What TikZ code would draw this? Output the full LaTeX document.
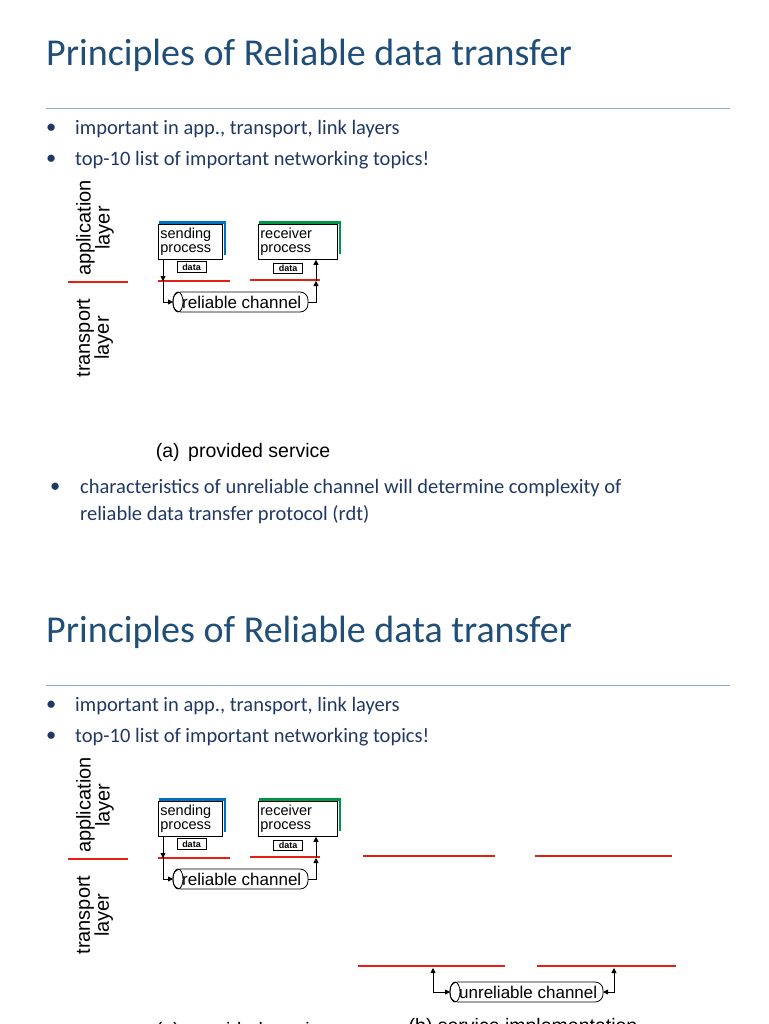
\documentclass[tikz,border=0pt]{standalone}
\usepackage{fontspec}
\setmainfont{Carlito}
\newfontfamily\arial{Liberation Sans}
\usetikzlibrary{arrows.meta}
\definecolor{ttl}{RGB}{31,78,121}
\definecolor{bod}{RGB}{32,56,100}
\definecolor{rl}{RGB}{230,30,20}
\definecolor{bl}{RGB}{0,112,192}
\definecolor{gr}{RGB}{0,150,70}
\tikzset{
 title/.style={anchor=west,font=\fontsize{38}{44}\selectfont,text=ttl,inner sep=0},
 bul/.style={anchor=west,font=\fontsize{20.5}{27}\selectfont,text=bod,inner sep=0,align=left},
 lay/.style={font=\arial\fontsize{20}{19}\selectfont,rotate=90,align=center,inner sep=0},
 proc/.style={draw,thick,font=\arial\fontsize{14.5}{14}\selectfont,align=left,inner sep=1pt,minimum height=35pt,anchor=north west},
 dbox/.style={draw,thick,font=\arial\bfseries\fontsize{9}{9}\selectfont,inner sep=2pt,minimum width=29pt},
 redl/.style={draw=rl,line width=1.8pt},
 conn/.style={thick,-{Triangle[length=5pt,width=5pt]}},
 chan/.style={font=\arial\fontsize{17}{17}\selectfont,inner sep=0},
 capt/.style={font=\arial\fontsize{19.5}{20}\selectfont,inner sep=0}
}
\newcommand{\cyl}[5]{% name x1 x2 ymid text
 \draw[thick,rounded corners=8pt] (#2,#4-10) rectangle (#3,#4+10);
 \draw[thick] (#2+5,#4) ellipse (5 and 10);
 \node[chan,anchor=west] (#1) at (#2+9,#4) {#5};
 \coordinate (#1L) at (#2,#4); \coordinate (#1R) at (#3,#4);}
\newcommand{\slide}{%
 \node[title] (t) at (46,55) {Principles of Reliable data transfer};
 \draw[draw={rgb,255:red,140;green,170;blue,215}] (46,108) -- (730,108);
 \node[bul] (d1b) at (46,129) {•};
 \node[bul] (b1) at (75,129) {important in app., transport, link layers};
 \node[bul] (d2b) at (46,160) {•};
 \node[bul] (b2) at (75,160) {top-10 list of important networking topics!};
 \node[lay] (al) at (95,228) {application\\layer};
 \node[lay] (tl) at (95,338) {transport\\layer};
 \draw[redl] (68,282) -- (128,282);
 \draw[bl,line width=2.5pt] (159,222.5) -- (225,222.5) -- (225,255);
 \node[proc,minimum width=64pt,text width=60pt] (sp) at (158,224) {sending\\process};
 \draw[gr,line width=2.5pt] (259,222.5) -- (340,222.5) -- (340,254);
 \node[proc,minimum width=79pt,text width=75pt] (rp) at (258,224) {receiver\\process};
 \node[dbox] (d1) at (191.5,267) {data};
 \node[dbox] (d2) at (288,268.5) {data};
 \draw[redl] (158,281) -- (230,281);
 \draw[redl] (250,280) -- (320,280);
 \cyl{rc}{173}{308}{302}{reliable channel}
 \coordinate (sl) at (163,281);
 \draw[thick] (sp.south -| sl) -- (sl);
 \draw[-{Triangle[length=5pt,width=5pt]},thick] (163,270) -- (sl);
 \draw[conn] (sl) |- (rcL);
 \coordinate (rr) at (316,281);
 \draw[conn] (rcR) -| (rr);
 \draw[conn] (rr) -- (rp.south -| rr);
}
\begin{document}
\begin{tikzpicture}[x=1pt,y=-1pt]
\useasboundingbox (0,0) rectangle (768,1024);
\clip (0,0) rectangle (768,1024);
\slide
\node[bul] (d3b) at (50,488) {•};
\node[bul] (b3) at (80,501.5) {characteristics of unreliable channel will determine complexity of\\reliable data transfer protocol (rdt)};
\node[capt] (ca) at (243,452) {(a)\, provided service};
\begin{scope}[shift={(0,577)}]
\slide
\end{scope}
\node[capt] (ca2) at (243,1031) {(a)\, provided service};
\node[capt] (cb) at (523,1027) {(b) service implementation};
\draw[redl] (363,856) -- (495,856);
\draw[redl] (535,856) -- (672,856);
\draw[redl] (358,966) -- (505,966);
\draw[redl] (537,966) -- (676,966);
\cyl{uc}{450}{603}{992}{unreliable channel}
\coordinate (ul) at (433,968);
\coordinate (ur) at (614,968);
\draw[thick,{Triangle[length=5pt,width=5pt]}-{Triangle[length=5pt,width=5pt]}] (ul) |- (ucL);
\draw[thick,{Triangle[length=5pt,width=5pt]}-{Triangle[length=5pt,width=5pt]}] (ur) |- (ucR);
\end{tikzpicture}
\end{document}
